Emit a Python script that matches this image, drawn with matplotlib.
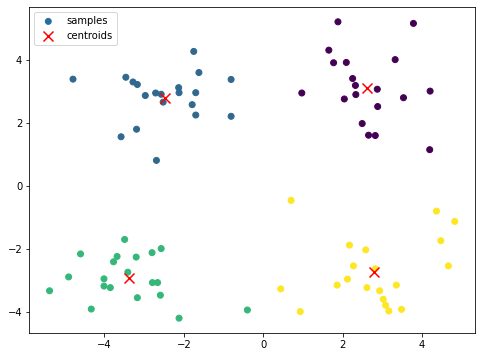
import numpy as np
import matplotlib
matplotlib.use("Agg")
import matplotlib.pyplot as plt

# cluster 1 (blue) first so the legend handle takes its colour
x_c1 = [-1.75, -1.62, -4.79, -3.46, -3.28, -3.17, -0.81, -2.97, -2.71, -2.57,
        -2.52, -2.13, -2.12, -1.70, -1.79, -1.70, -0.81, -3.19, -3.58, -2.69]
y_c1 = [4.26, 3.59, 3.38, 3.44, 3.29, 3.21, 3.37, 2.86, 2.94, 2.90,
        2.65, 3.11, 2.95, 2.95, 2.57, 2.24, 2.20, 1.79, 1.55, 0.80]

x_c0 = [1.88, 3.78, 1.65, 1.77, 2.09, 3.32, 2.25, 2.32, 2.33, 0.97,
        2.04, 2.87, 3.53, 4.20, 2.88, 2.49, 2.65, 2.82, 4.19]
y_c0 = [5.20, 5.15, 4.30, 3.90, 3.91, 4.00, 3.40, 3.18, 2.89, 2.94,
        2.75, 3.06, 2.79, 3.00, 2.51, 1.97, 1.60, 1.59, 1.14]

x_c2 = [-3.49, -4.60, -3.68, -3.77, -3.20, -2.80, -2.57, -3.41, -4.90, -4.01,
        -4.01, -3.85, -2.79, -2.66, -5.38, -3.17, -2.59, -4.33, -2.12, -0.40]
y_c2 = [-1.71, -2.17, -2.25, -2.42, -2.27, -2.13, -2.00, -2.75, -2.90, -2.96,
        -3.19, -3.24, -3.08, -3.08, -3.34, -3.56, -3.48, -3.92, -4.21, -3.95]

x_c3 = [0.70, 4.36, 4.82, 4.47, 4.66, 2.17, 2.58, 2.27, 2.82, 2.12,
        1.86, 0.44, 2.61, 3.35, 2.93, 3.02, 3.08, 3.16, 3.48, 0.93]
y_c3 = [-0.47, -0.81, -1.14, -1.75, -2.55, -1.89, -2.04, -2.55, -2.64, -2.97,
        -3.16, -3.28, -3.24, -3.16, -3.34, -3.61, -3.80, -3.98, -3.93, -4.00]

centroid_x = [2.62, -2.47, -3.38, 2.80]
centroid_y = [3.11, 2.79, -2.94, -2.75]

xs = np.array(x_c1 + x_c0 + x_c2 + x_c3)
ys = np.array(y_c1 + y_c0 + y_c2 + y_c3)
labels = np.array([1] * len(x_c1) + [0] * len(x_c0) + [2] * len(x_c2) + [3] * len(x_c3))

fig = plt.figure(figsize=(482 / 72, 357 / 72), dpi=72)
ax = fig.add_axes([29.3 / 482, 24 / 357, (475 - 29.3) / 482, (333 - 7) / 357])

ax.scatter(xs, ys, c=labels, cmap="viridis", vmin=0, vmax=3, label="samples")
ax.scatter(centroid_x, centroid_y, marker="x", s=100, c="red", label="centroids")
leg = ax.legend(loc="upper left")
# legend dot in the reference is the plain default blue
leg.legend_handles[0].set_facecolor("#1f77b4")
leg.legend_handles[0].set_edgecolor("#1f77b4")

fig.savefig("out.png", dpi=72)
